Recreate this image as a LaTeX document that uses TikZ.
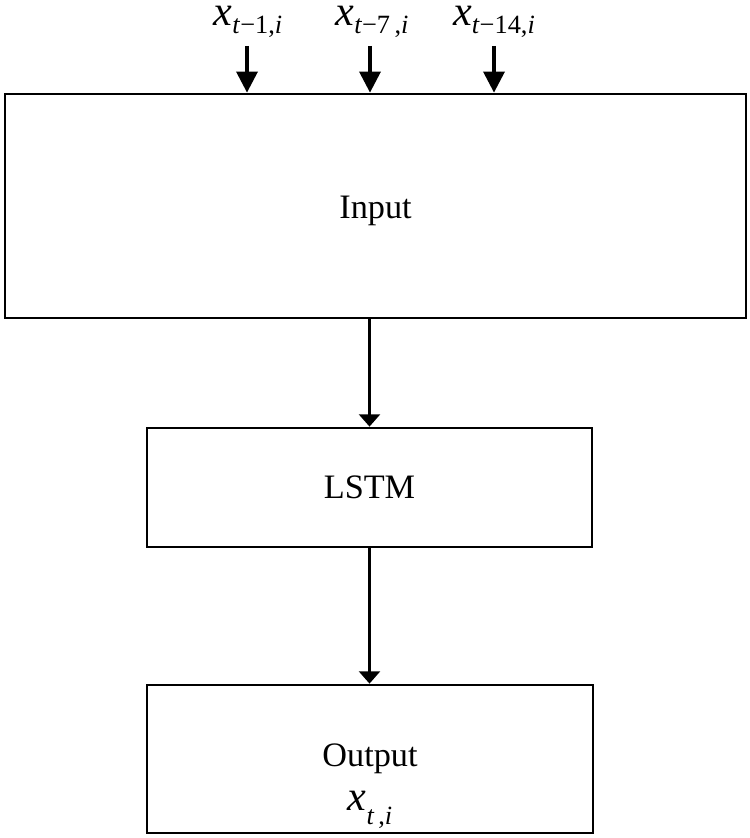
\documentclass[tikz,border=0pt]{standalone}
\usepackage{fontspec}
\setmainfont{Liberation Serif}
\usetikzlibrary{arrows.meta,positioning}
\newcommand{\xsub}[1]{{\fontsize{24}{26}\selectfont\itshape x}\raisebox{-0.42em}{\fontsize{15}{17}\selectfont #1}}

\begin{document}
\begin{tikzpicture}[x=0.02cm,y=-0.02cm,
  box/.style={draw,line width=1.6pt,inner sep=0pt,font=\fontsize{19.5}{22}\selectfont,align=center},
  lbl/.style={anchor=base,inner sep=0pt},
  arr/.style={-{Triangle[length=7pt,width=12pt]},line width=1.2pt},
  toparr/.style={-{Triangle[length=12pt,width=12pt]},line width=1.9pt}]
\useasboundingbox (0,0) rectangle (750,838);
\node[box,minimum width=14.82cm,minimum height=4.48cm] (inp) at (375.5,206) {\rule{0pt}{18pt}Input};
\node[box,minimum width=8.9cm,minimum height=2.38cm] (lstm) at (369.5,487.5) {LSTM};
\node[box,minimum width=8.92cm,minimum height=2.96cm] (out) at (370,759) {\rule{0pt}{44pt}Output\\[3pt]\xsub{\textit{t\,},\textit{i}}};
\node[lbl] (l1) at (248,26) {\xsub{\textit{t}−1,\textit{i}}};
\node[lbl] (l7) at (372,26) {\xsub{\textit{t}−7\,,\textit{i}}};
\node[lbl] (l14) at (494,26) {\xsub{\textit{t}−14,\textit{i}}};
\coordinate (s1) at (247,46);
\coordinate (s7) at (370,46);
\coordinate (s14) at (494,46);
\draw[toparr] (s1) -- (s1 |- inp.north);
\draw[toparr] (s7) -- (s7 |- inp.north);
\draw[toparr] (s14) -- (s14 |- inp.north);
\draw[arr] (inp.south -| lstm.north) -- (lstm.north);
\draw[arr] (lstm.south) -- (lstm.south |- out.north);
\end{tikzpicture}
\end{document}
